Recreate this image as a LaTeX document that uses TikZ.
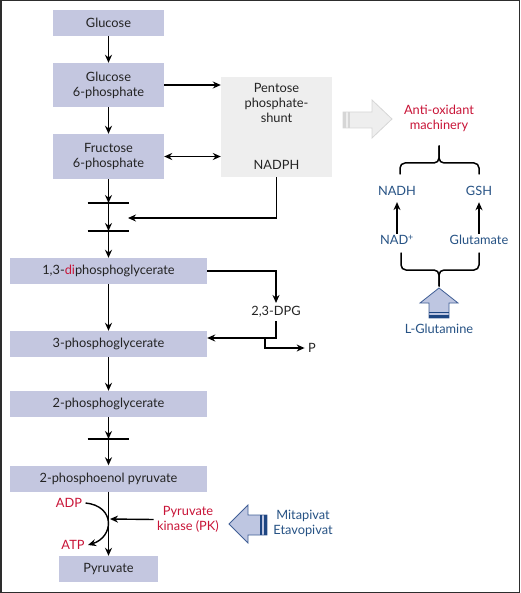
\documentclass[tikz,border=0pt]{standalone}
\usepackage{fontspec}
\setmainfont{Lato}
\usetikzlibrary{arrows.meta}
\definecolor{boxlilac}{RGB}{196,199,224}
\definecolor{shuntgray}{RGB}{238,238,238}
\definecolor{shuntedge}{RGB}{214,214,214}
\definecolor{pkred}{RGB}{200,20,55}
\definecolor{textblue}{RGB}{38,82,132}
\definecolor{arrowblue}{RGB}{190,198,225}
\definecolor{arrowedge}{RGB}{65,95,150}
\definecolor{stripeblue}{RGB}{30,70,130}
\definecolor{framegray}{RGB}{45,45,45}
\definecolor{inkgray}{RGB}{35,35,35}

\begin{document}
\begin{tikzpicture}[x=1pt, y=-1pt,
    every node/.style={font=\fontsize{12.8}{15}\selectfont, text=inkgray},
    arr/.style={-{Stealth[length=8pt,width=7pt]}, line width=1.4pt, color=black},
    arrboth/.style={{Stealth[length=8pt,width=7pt]}-{Stealth[length=8pt,width=7pt]}, line width=1.4pt, color=black},
    pathbox/.style={fill=boxlilac, inner sep=0pt, minimum height=26pt, minimum width=197pt, align=center},
    redtext/.style={text=pkred, align=center},
    bluetext/.style={text=textblue, align=center},
    bracket/.style={line width=1.5pt, rounded corners=5pt, line cap=round}]

    % constants
    \def\xmain{108.5}

    % frame
    \useasboundingbox (0,0) rectangle (520,593);
    \draw[line width=1.5pt, color=framegray] (0.75,0.75) rectangle (519.25,592.25);

    % glycolysis boxes
    \node[pathbox, minimum width=111pt] (glc) at (\xmain,23) {Glucose};
    \node[pathbox, minimum width=111pt, minimum height=44pt] (g6p) at (\xmain,85) {Glucose\\6-phosphate};
    \node[pathbox, minimum width=111pt, minimum height=45pt] (f6p) at (\xmain,156.5) {Fructose\\6-phosphate};
    \node[pathbox] (dpg13) at (\xmain,271) {1,3-\textcolor{pkred}{di}phosphoglycerate};
    \node[pathbox] (pg3) at (\xmain,344) {3-phosphoglycerate};
    \node[pathbox] (pg2) at (\xmain,404) {2-phosphoglycerate};
    \node[pathbox] (pep) at (\xmain,478.5) {2-phosphoenol pyruvate};
    \node[pathbox, minimum width=99pt] (pyr) at (\xmain,569) {Pyruvate};

    % blocked steps
    \coordinate (bar1) at (\xmain,203);
    \coordinate (bar2) at (\xmain,231);
    \coordinate (bar3) at (\xmain,439);
    \foreach \b in {bar1,bar2,bar3}
        \draw[line width=1.5pt] ([xshift=-21pt]\b) -- ([xshift=20pt]\b);

    % main chain
    \draw[arr] (glc) -- (g6p);
    \draw[arr] (g6p) -- (f6p);
    \draw[arr] (f6p) -- (bar1);
    \draw[arr] (bar1) -- (bar2);
    \draw[arr] (bar2) -- (dpg13);
    \draw[arr] (dpg13) -- (pg3);
    \draw[arr] (pg3) -- (pg2);
    \draw[arr] (pg2) -- (bar3);
    \draw[arr] (bar3) -- (pep);
    \draw[arr] (pep) -- (pyr);

    % pentose phosphate shunt
    \node[fill=shuntgray, minimum width=111pt, minimum height=100pt, inner sep=0pt] (shunt) at (276.5,127) {};
    \node[align=center] (ppp) at (276.5,103) {Pentose\\phosphate-\\shunt};
    \node (nadph) at (276.5,165) {NADPH};
    \draw[arr] (g6p.east) -- (g6p.east -| shunt.west);
    \draw[arrboth] (f6p.east) -- (f6p.east -| shunt.west);
    \coordinate (nadphin) at (128,218);
    \draw[arr] (shunt.south) |- (nadphin);

    % Rapoport-Luebering shunt
    \node (dpg23) at (276,312) {2,3-DPG};
    \node (pout) at (312,348) {P};
    \coordinate (split) at (265,338);
    \draw[arr] (dpg13.east) -| (dpg23.north);
    \draw[arr] (dpg23.south) |- ([yshift=6pt]pg3.east);
    \draw[arr] (split) |- (pout.west);

    % pyruvate kinase step
    \node[redtext] (adp) at (69,503) {ADP};
    \node[redtext] (atp) at (73,545) {ATP};
    \draw[arr] (adp.east) .. controls +(30,3) and +(26,-8) .. (atp.east);
    \node[redtext] (pk) at (188,519.5) {Pyruvate\\kinase (PK)};
    \coordinate (pkhit) at (110,519);
    \draw[arr] (pk.west) -- (pkhit);

    % activators
    \draw[color=arrowedge, fill=arrowblue, line width=0.8pt] (267,515) -- (248,515) -- (248,505) -- (229,524) -- (248,543) -- (248,535) -- (267,535) -- cycle;
    \fill[stripeblue] (259.5,515) rectangle (262,535);
    \fill[stripeblue] (264,515) rectangle (267,535);
    \node[bluetext] (drugs) at (303,523.5) {Mitapivat\\Etavopivat};

    % anti-oxidant side
    \draw[color=shuntedge, fill=shuntgray, line width=0.8pt] (343,112) -- (372,112) -- (372,100) -- (392,119) -- (372,138) -- (372,128) -- (343,128) -- cycle;
    \fill[shuntedge] (343,112) rectangle (346,128);
    \fill[shuntedge] (347.5,112) rectangle (350,128);
    \node[redtext] (antiox) at (439,118.5) {Anti-oxidant\\machinery};

    \draw[bracket] (400,174) -- (400,163) -- (439,163) -- (439,146);
    \draw[bracket] (479,174) -- (479,163) -- (439,163) -- (439,146);

    \node[bluetext] (nadh) at (397,191) {NADH};
    \node[bluetext] (gsh) at (479,191) {GSH};
    \node[bluetext] (nad) at (397,240) {NAD\textsuperscript{+}};
    \node[bluetext] (glu) at (479,240) {Glutamate};
    \draw[arr, shorten <=-2pt, shorten >=3pt] (nad) -- (nadh);
    \draw[arr, shorten <=-2pt, shorten >=3pt] (glu) -- (gsh);

    \draw[bracket] (401,253) -- (401,270) -- (439,270) -- (439,286);
    \draw[bracket] (479,253) -- (479,270) -- (439,270) -- (439,286);

    % glutamine supply
    \draw[color=arrowedge, fill=arrowblue, line width=0.8pt] (429,318) -- (429,303) -- (420,303) -- (439,288) -- (458,303) -- (449,303) -- (449,318) -- cycle;
    \draw[stripeblue, line width=0.8pt] (429,312.5) -- (449,312.5);
    \fill[stripeblue] (429,315) rectangle (449,318.4);
    \node[bluetext] (gln) at (439,329) {L-Glutamine};

\end{tikzpicture}
\end{document}
